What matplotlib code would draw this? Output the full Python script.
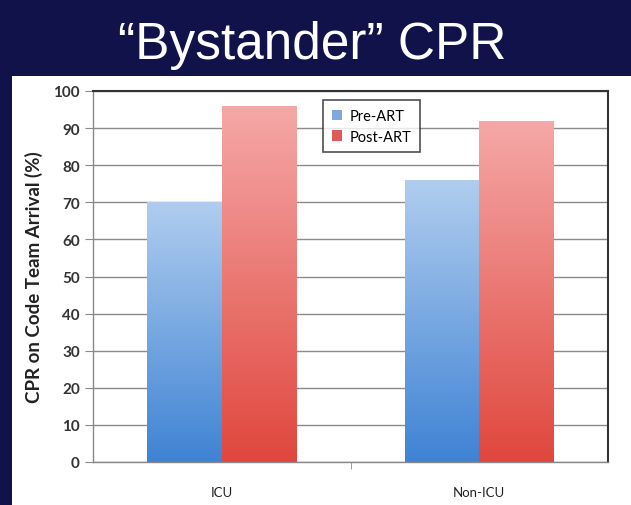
import numpy as np
import matplotlib
matplotlib.use("Agg")
import matplotlib.pyplot as plt
from matplotlib.colors import LinearSegmentedColormap
from matplotlib.patches import Rectangle, Patch

categories = ["ICU", "Non-ICU"]
series_names = ["Pre-ART", "Post-ART"]
pre_art = [70, 76]
post_art = [96, 92]
yticks = list(range(0, 101, 10))

NAVY = "#11124a"
blue_cmap = LinearSegmentedColormap.from_list("b", ["#3f83d4", "#b0cdef"])
red_cmap = LinearSegmentedColormap.from_list("r", ["#e0473d", "#f5a8a8"])

fig = plt.figure(figsize=(6.31, 5.06), dpi=100)
fig.patch.set_facecolor(NAVY)

# white panel under the chart
fig.patches.append(Rectangle((12 / 631, 0), 1 - 12 / 631, 1 - 77 / 506,
                             transform=fig.transFigure, facecolor="white",
                             edgecolor="none", zorder=-5))

fig.text(312 / 631, 1 - 45 / 506, "\u201cBystander\u201d CPR", color="white",
         fontsize=37, ha="center", va="center", family="Liberation Sans")

ax = fig.add_axes([93 / 631, 1 - 463 / 506, 515 / 631, 371 / 506])
ax.set_zorder(2)
ax.set_facecolor("white")

x = np.arange(len(categories))
w = 0.29
gradient = np.linspace(0, 1, 256).reshape(-1, 1)
for vals, off, cmap in [(pre_art, -w / 2, blue_cmap), (post_art, w / 2, red_cmap)]:
    bars = ax.bar(x + off, vals, width=w, facecolor="none", edgecolor="none", zorder=2)
    for b in bars:
        x0, y0 = b.get_x(), b.get_y()
        im = ax.imshow(gradient, cmap=cmap, origin="lower", aspect="auto",
                       extent=(x0, x0 + b.get_width(), y0, y0 + b.get_height()),
                       zorder=2)
        im.set_clip_path(b)

ax.set_xlim(-0.5, 1.5)
ax.set_ylim(0, 100)
ax.set_yticks(yticks)
ax.set_xticks(x)
ax.set_xticklabels(categories, fontsize=9.5, color="#222222", family="Lato")
ax.set_xticks([0.5], minor=True)
ax.tick_params(axis="x", which="major", length=0, pad=17)
ax.tick_params(axis="x", which="minor", length=5, color="#888888")
ax.tick_params(axis="y", length=6, color="#888888", labelsize=11, labelcolor="#333333")
for lab in ax.get_yticklabels():
    lab.set_family("Lato")
    lab.set_fontweight("bold")
ax.grid(axis="y", color="#8a8a8a", linewidth=1, zorder=1)
ax.set_axisbelow(True)
for side in ["top", "right"]:
    ax.spines[side].set_color("#333333")
    ax.spines[side].set_linewidth(1.5)
for side in ["left", "bottom"]:
    ax.spines[side].set_color("#888888")
    ax.spines[side].set_linewidth(1)

ax.set_ylabel("CPR on Code Team Arrival (%)", fontsize=13.5, fontweight="bold",
              family="Lato", color="#222222", labelpad=7)

handles = [Patch(facecolor="#7fa8dc", edgecolor="none"),
           Patch(facecolor="#e05a5a", edgecolor="none")]
leg = ax.legend(handles, series_names, loc="upper left",
                bbox_to_anchor=(0.447, 0.975), frameon=True,
                fancybox=False, edgecolor="#222222", handlelength=0.7,
                handleheight=0.7, handletextpad=0.5, borderpad=0.6,
                labelspacing=0.45, borderaxespad=0,
                prop={"family": "Lato", "size": 10.5})
leg.get_frame().set_linewidth(1.2)

fig.savefig("out.png", dpi=100, facecolor=fig.get_facecolor())
